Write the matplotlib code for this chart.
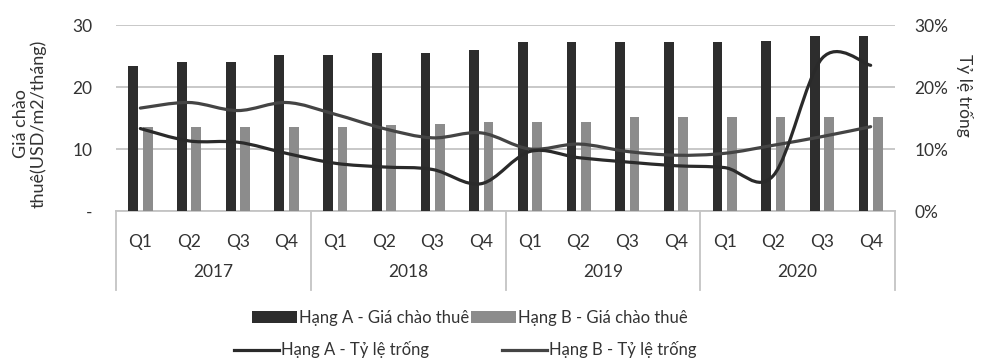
import matplotlib
matplotlib.use("Agg")
import matplotlib.pyplot as plt
from matplotlib.path import Path
from matplotlib.patches import PathPatch, Patch
from matplotlib.lines import Line2D
from matplotlib.ticker import FixedLocator, FuncFormatter
import matplotlib.transforms as mtransforms

plt.rcParams['font.family'] = ['Lato', 'DejaVu Sans']

years = ["2017", "2018", "2019", "2020"]
quarters = ["Q1", "Q2", "Q3", "Q4"]

# Asking rent, USD/m2/month
rent_a = [23.4, 24.0, 24.1, 25.1, 25.2, 25.5, 25.5, 26.0,
          27.2, 27.2, 27.2, 27.2, 27.2, 27.4, 28.2, 28.2]
rent_b = [13.6, 13.6, 13.6, 13.6, 13.6, 13.9, 14.1, 14.4,
          14.4, 14.4, 15.1, 15.1, 15.1, 15.2, 15.1, 15.2]
# Vacancy rate, %
vac_a = [13.3, 11.3, 11.1, 9.3, 7.7, 7.1, 6.7, 4.4,
         9.6, 8.6, 7.9, 7.3, 7.0, 5.7, 24.6, 23.5]
vac_b = [16.6, 17.5, 16.2, 17.5, 15.6, 13.3, 11.8, 12.6,
         10.0, 10.8, 9.6, 9.0, 9.3, 10.6, 12.0, 13.6]

labels = ["Hạng A - Giá chào thuê", "Hạng B - Giá chào thuê",
          "Hạng A - Tỷ lệ trống", "Hạng B - Tỷ lệ trống"]

C_A = "#2d2d2d"
C_B = "#8c8c8c"
C_LA = "#2a2a2a"
C_LB = "#444444"
TXT = "#333333"
GRID = "#c4c4c4"
FS = 12.5

fig = plt.figure(figsize=(9.83, 3.64), dpi=100)
fig.patch.set_facecolor("white")
ax = fig.add_axes([116 / 983, 1 - 211 / 364, (895 - 116) / 983, 186 / 364])
ax2 = ax.twinx()

n = len(rent_a)
xs = list(range(n))
bw = 0.2
ax.bar([x - 0.145 for x in xs], rent_a, width=bw, color=C_A, zorder=3)
ax.bar([x + 0.15 for x in xs], rent_b, width=bw, color=C_B, zorder=3)

ax.set_xlim(-0.5, n - 0.5)
ax.set_ylim(0, 30)
ax2.set_ylim(0, 30)
ax.yaxis.set_major_locator(FixedLocator([0, 10, 20, 30]))
ax2.yaxis.set_major_locator(FixedLocator([0, 10, 20, 30]))
ax.yaxis.set_major_formatter(FuncFormatter(lambda v, p: "-" if v == 0 else f"{v:.0f}"))
ax2.yaxis.set_major_formatter(FuncFormatter(lambda v, p: f"{v:.0f}%"))
ax.grid(axis="y", color=GRID, linewidth=1.3, zorder=0)
ax.set_axisbelow(True)
ax.set_xticks([])
for a in (ax, ax2):
    for s in a.spines.values():
        s.set_visible(False)
    a.tick_params(axis="y", length=0, labelsize=FS, labelcolor=TXT)
ax.tick_params(axis="y", pad=17)
ax2.tick_params(axis="y", pad=14)


def smooth_path(values):
    """Bezier path through the points, Excel-style smoothing."""
    pts = list(zip(xs, values))
    verts = [pts[0]]
    codes = [Path.MOVETO]
    for i in range(len(pts) - 1):
        p0 = pts[i - 1] if i > 0 else pts[i]
        p1 = pts[i]
        p2 = pts[i + 1]
        p3 = pts[i + 2] if i + 2 < len(pts) else pts[i + 1]
        c1 = (p1[0] + (p2[0] - p0[0]) / 6, p1[1] + (p2[1] - p0[1]) / 6)
        c2 = (p2[0] - (p3[0] - p1[0]) / 6, p2[1] - (p3[1] - p1[1]) / 6)
        verts += [c1, c2, p2]
        codes += [Path.CURVE4] * 3
    return Path(verts, codes)


ax2.add_patch(PathPatch(smooth_path(vac_b), fill=False, edgecolor=C_LB,
                        linewidth=2.3, zorder=4, capstyle="round"))
ax2.add_patch(PathPatch(smooth_path(vac_a), fill=False, edgecolor=C_LA,
                        linewidth=2.3, zorder=5, capstyle="round"))

# Two-level category axis
trans = mtransforms.blended_transform_factory(ax.transData, ax.transAxes)
frame_bottom = -0.425
ax.plot([-0.5, n - 0.5], [0, 0], transform=trans, color=GRID, lw=1.3, clip_on=False)
for b in [-0.5, 3.5, 7.5, 11.5, 15.5]:
    ax.plot([b, b], [0, frame_bottom], transform=trans, color=GRID, lw=1.3, clip_on=False)
for i in xs:
    ax.text(i, -0.167, quarters[i % 4], transform=trans, ha="center", va="center",
            fontsize=FS, color=TXT)
for k, yr in enumerate(years):
    ax.text(4 * k + 1.5, -0.33, yr, transform=trans, ha="center", va="center",
            fontsize=FS, color=TXT)

fig.text(30 / 983, 1 - 124 / 364, "Giá chào\nthuê(USD/m2/tháng)", rotation=90,
         ha="center", va="center", fontsize=13, color=TXT, linespacing=1.05)
fig.text(964 / 983, 1 - 95 / 364, "Tỷ lệ trống", rotation=270,
         ha="center", va="center", fontsize=FS, color=TXT)

h_bars = [Patch(facecolor=C_A), Patch(facecolor=C_B)]
h_lines = [Line2D([], [], color=C_LA, lw=2.3), Line2D([], [], color=C_LB, lw=2.3)]
leg_kw = dict(frameon=False, ncol=2, fontsize=12, handlelength=2.7,
              handletextpad=0.12, columnspacing=0.1, labelcolor=TXT,
              borderaxespad=0, borderpad=0)
fig.legend(h_bars, labels[:2], loc="center", bbox_to_anchor=(470 / 983, 1 - 318 / 364),
           **leg_kw)
leg_kw["columnspacing"] = 4.4
fig.legend(h_lines, labels[2:], loc="center", bbox_to_anchor=(465 / 983, 1 - 350 / 364),
           **leg_kw)

fig.savefig("out.png", dpi=100, facecolor="white")
